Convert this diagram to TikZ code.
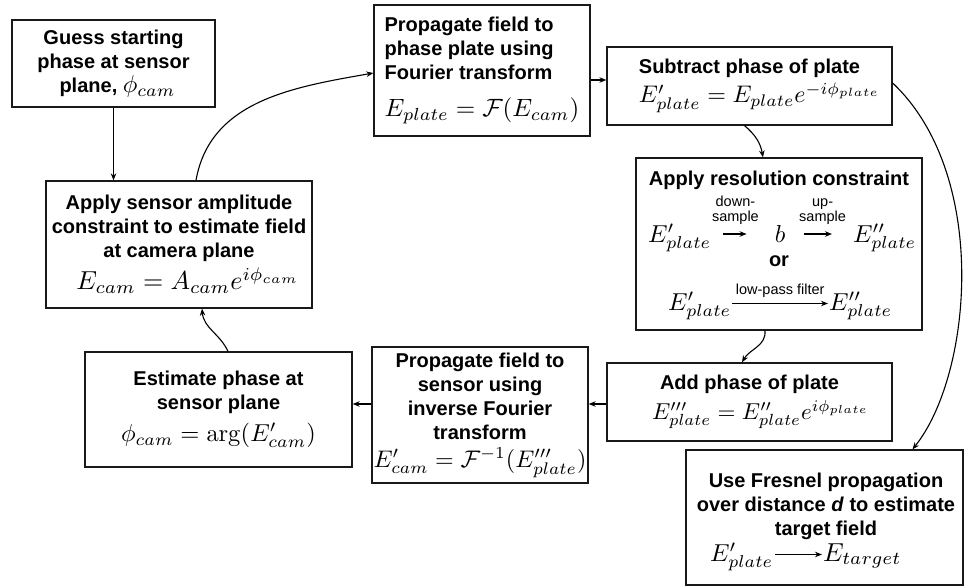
\documentclass[tikz,border=0pt]{standalone}
\usepackage{amsmath}
\usepackage{graphicx}
\usepackage[no-math]{fontspec}
\setmainfont{Liberation Sans}
\usetikzlibrary{arrows.meta}
\newcommand{\mth}[2][2.45]{\scalebox{#1}{\fontsize{10}{12}\selectfont$#2$}}
\begin{document}
\begin{tikzpicture}[x=1pt,y=1pt,
 box/.style={draw=black!90, line width=1.3pt, inner sep=0pt, align=center, font=\bfseries\fontsize{20}{24}\selectfont},
 bt/.style={inner sep=0pt, font=\bfseries\fontsize{20}{24}\selectfont, align=center},
 mnode/.style={inner sep=0pt},
 lbl/.style={inner sep=0pt, font=\fontsize{14.5}{15}\selectfont, align=center},
 flow/.style={line width=1.1pt, -{Stealth[length=7pt,width=5.5pt]}},
 marr/.style={line width=1.1pt, -{Stealth[length=7pt,width=5.5pt]}},
]
\useasboundingbox (0,0) rectangle (964,-586);

% boxes
\node[box, minimum width=203pt, minimum height=87pt] (guess) at (113.5,-63.5)
  {Guess starting\\phase at sensor\\\hspace*{8pt}plane, \mth[2.45]{\phi_{cam}}};
\node[box, minimum width=266pt, minimum height=127pt] (amp) at (179,-244.5)
  {Apply sensor amplitude\\constraint to estimate field\\at camera plane\\[5pt]\hspace*{18pt}\mth[2.6]{E_{cam} = A_{cam}e^{i\phi_{cam}}}};
\node[box, minimum width=216pt, minimum height=131pt, align=left] (fwd) at (482,-70.5)
  {Propagate field to\\phase plate using\\Fourier transform\\[13pt]\mth[2.5]{E_{plate} = \mathcal{F}(E_{cam})}};
\node[box, minimum width=285pt, minimum height=78pt] (sub) at (749.5,-86)
  {Subtract phase of plate\\[4pt]\hspace*{20pt}\mth[2.4]{E'_{plate} = E_{plate}e^{-i\phi_{plate}}}};
\node[box, minimum width=286pt, minimum height=172pt] (res) at (779,-244) {};
\node[box, minimum width=285pt, minimum height=78pt] (add) at (749.5,-402)
  {Add phase of plate\\[6pt]\hspace*{22pt}\mth[2.3]{E'''_{plate} = E''_{plate}e^{i\phi_{plate}}}};
\node[box, minimum width=277pt, minimum height=135pt] (gf) at (824.5,-517.5) {};
\node[box, minimum width=216pt, minimum height=136pt] (inv) at (480,-415)
  {Propagate field to\\sensor using\\inverse Fourier\\transform\\[4pt]\mth[2.4]{E'_{cam} = \mathcal{F}^{-1}(E'''_{plate})}};
\node[box, minimum width=267pt, minimum height=115pt] (est) at (218.5,-409.5)
  {Estimate phase at\\sensor plane\\[8pt]\mth{\phi_{cam} = \arg(E'_{cam})}};

% resolution constraint contents
\node[bt, anchor=base] (rtitle) at (779,-185) {Apply resolution constraint};
\node[mnode, anchor=base west] (r1a) at (648,-242) {\mth{E'_{plate}}};
\node[mnode, anchor=base] (r1b) at (780,-242) {\mth{b}};
\node[mnode, anchor=base west] (r1c) at (853,-242) {\mth{E''_{plate}}};
\draw[marr, shorten <=12pt, shorten >=28pt] ([yshift=8pt]r1a.base east) -- ([yshift=8pt]r1b.base west)
  node[lbl, pos=0.38, above=9pt] {down-\\sample};
\draw[marr, shorten <=19pt, shorten >=21pt] ([yshift=8pt]r1b.base east) -- ([yshift=8pt]r1c.base west)
  node[lbl, pos=0.55, above=9pt] {up-\\sample};
\node[bt, anchor=base] (ror) at (779,-266) {or};
\node[mnode, anchor=base west] (r2a) at (668,-310) {\mth{E'_{plate}}};
\node[mnode, anchor=base west] (r2c) at (829,-310) {\mth{E''_{plate}}};
\draw[marr, shorten <=1pt, shorten >=1pt] ([yshift=6.5pt]r2a.base east) -- ([yshift=6.5pt]r2c.base west)
  node[lbl, midway, above=5pt] {low-pass filter};

% Fresnel contents
\node[bt] (gtext) at (826,-506) {Use Fresnel propagation\\over distance \textit{d} to estimate\\target field};
\node[mnode, anchor=base west] (g1) at (710,-561) {\mth{E'_{plate}}};
\node[mnode, anchor=base west] (g2) at (823,-561) {\mth[2.6]{E_{target}}};
\draw[marr, shorten <=2pt, shorten >=1pt] ([yshift=6.5pt]g1.base east) -- ([yshift=6.5pt]g2.base west);

% connectors
\draw[flow] (guess.south) -- (guess.south |- amp.north);
\draw[flow] ([xshift=17pt]amp.north) to[out=80,in=190] ([yshift=-2.5pt]fwd.west);
\draw[flow] ([yshift=-9.5pt]fwd.east) -- ([yshift=-9.5pt]fwd.east -| sub.west);
\draw[flow] ([xshift=-5pt]sub.south) to[out=-40,in=100] ([xshift=-16pt]res.north);
\draw[flow] ([yshift=3pt]sub.east) .. controls (990,-175) and (972,-375) .. ([xshift=88pt]gf.north);
\draw[flow] ([xshift=-14pt]res.south) to[out=-85,in=60] ([xshift=-7.5pt]add.north);
\coordinate (rowy) at (0,-404);
\draw[flow] (add.west |- rowy) -- (inv.east |- rowy);
\draw[flow] (inv.west |- rowy) -- (est.east |- rowy);
\draw[flow] ([xshift=9.5pt]est.north) to[out=115,in=-85] ([xshift=23pt]amp.south);
\end{tikzpicture}
\end{document}
